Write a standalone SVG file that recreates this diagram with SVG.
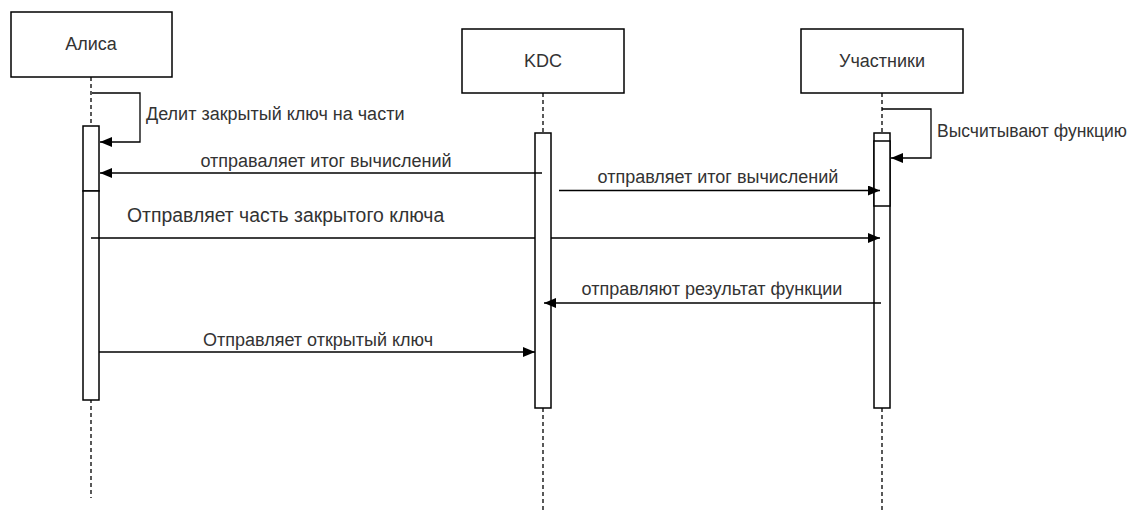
<svg xmlns="http://www.w3.org/2000/svg" width="1131" height="512" viewBox="0 0 1131 512">
<defs>
<marker id="arr" markerWidth="13" markerHeight="10" refX="12" refY="5" orient="auto" markerUnits="userSpaceOnUse">
<path d="M0,0 L12,5 L0,10 Z" fill="#000"/>
</marker>
<style>
.box{fill:#fff;stroke:#000;stroke-width:1.5}
.act{fill:#fff;stroke:#000;stroke-width:1.5}
.life{stroke:#000;stroke-width:1.3;stroke-dasharray:4,3;fill:none}
.msg{stroke:#000;stroke-width:1.3;fill:none;marker-end:url(#arr)}
text{font-family:"Liberation Sans",Arial,Helvetica,sans-serif;fill:#333;font-size:18px}
.t{text-anchor:middle}
</style>
</defs>
<rect width="1131" height="512" fill="#fff"/>
<g id="lifelines">
<line class="life" x1="91" y1="77" x2="91" y2="498"/>
<line class="life" x1="543" y1="93" x2="543" y2="512"/>
<line class="life" x1="882" y1="93" x2="882" y2="512"/>
</g>
<g id="alice">
<rect class="box" x="11" y="12" width="161" height="65"/>
<text class="t" x="91" y="50">Алиса</text>
<rect class="act" x="83" y="126" width="16" height="65"/>
<rect class="act" x="83" y="191" width="16" height="209"/>
</g>
<g id="kdc">
<rect class="box" x="462" y="29" width="162" height="64"/>
<text class="t" x="543" y="67">KDC</text>
<rect class="act" x="535" y="133" width="16" height="275"/>
</g>
<g id="participants">
<rect class="box" x="801" y="29" width="162" height="64"/>
<text class="t" x="882" y="67">Участники</text>
<rect class="act" x="874" y="133" width="16" height="275"/>
<rect class="act" x="874" y="141" width="16" height="65"/>
</g>
<g id="connectors">
<path class="msg" d="M92,93 H140 V142 H100"/>
<path class="msg" d="M542,173 H100"/>
<path class="msg" d="M559,190.5 H880"/>
<path class="msg" d="M91,238 H535 M551,238 H880"/>
<path class="msg" d="M882,109 H931 V158 H891"/>
<path class="msg" d="M881,303 H544"/>
<path class="msg" d="M99,352 H535"/>
</g>
<g id="labels">
<text x="146" y="120">Делит закрытый ключ на части</text>
<text class="t" x="326" y="167">отправаляет итог вычислений</text>
<text class="t" x="718" y="183">отправляет итог вычислений</text>
<text x="127" y="222" style="font-size:19.4px">Отправляет часть закрытого ключа</text>
<text x="937" y="137" style="font-size:17.5px">Высчитывают функцию</text>
<text class="t" x="712" y="295">отправляют результат функции</text>
<text class="t" x="318" y="346">Отправляет открытый ключ</text>
</g>
</svg>
